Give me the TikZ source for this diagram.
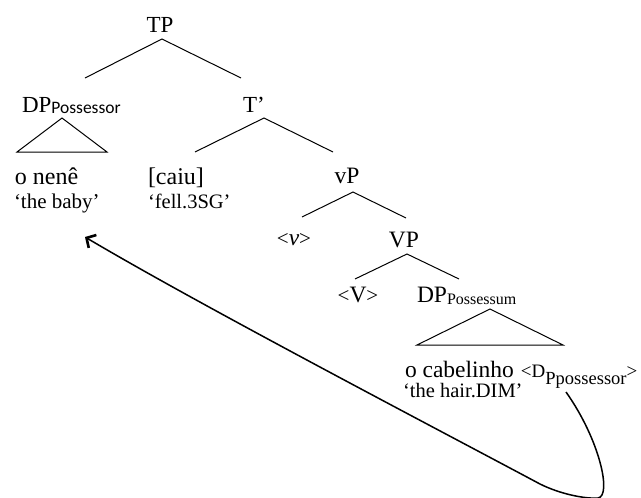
\documentclass[tikz,border=0pt]{standalone}
\usepackage{fontspec}
\setmainfont{Liberation Serif}
\newfontfamily\subfont{Carlito}
\usetikzlibrary{arrows.meta}
\newcommand{\angl}[1]{{\fontsize{21}{22}\selectfont#1}}
\tikzset{
  every node/.style={inner sep=0pt, outer sep=0pt},
  cam/.style={font=\fontsize{23}{25}\selectfont},
  camleaf/.style={font=\fontsize{24}{26}\selectfont},
  camgloss/.style={font=\fontsize{21}{24}\selectfont},
  tms/.style={font=\fontsize{23.5}{26}\selectfont},
  gloss/.style={font=\fontsize{20.5}{24}\selectfont},
  branch/.style={line width=1pt},
  movement/.style={line width=1.5pt,
    {Straight Barb[length=7pt,width=15pt,line width=2.6pt]}-}
}
\begin{document}
\begin{tikzpicture}[x=1pt,y=-1pt]
  \useasboundingbox (0,0) rectangle (641,498);

  % category labels
  \node[cam,anchor=base] (tp) at (160,32) {TP};
  \node[cam,anchor=base] (tbar) at (254,112) {T’};
  \node[cam,anchor=base west] (dpposs) at (22,112)
    {DP\raisebox{-1pt}{\subfont\fontsize{17.5}{18}\selectfont Possessor}};
  \node[tms,anchor=base] (vp) at (347,183) {vP};
  \node[tms,anchor=base] (vtrace) at (294,245) {\angl{<}\textit{v}\angl{>}};
  \node[tms,anchor=base] (VP) at (404,247) {VP};
  \node[tms,anchor=base] (Vtrace) at (358,302) {\angl{<}V\angl{>}};
  \node[tms,anchor=base west] (dpsum) at (417,302)
    {DP\raisebox{-2pt}{\fontsize{16}{18}\selectfont Possessum}};

  % leaves
  \node[camleaf,anchor=base west] (nene) at (15,184) {o nenê};
  \node[camgloss,anchor=base west] (baby) at (14,208) {‘the baby’};
  \node[camleaf,anchor=base west] (caiu) at (148,184) {[caiu]};
  \node[camgloss,anchor=base west,font=\fontsize{20.5}{24}\selectfont] (fell)
    at (148,208) {‘fell.3SG’};
  \node[tms,anchor=base west] (cabelinho) at (405,377) {o cabelinho};
  \node[anchor=base west,font=\fontsize{19}{20}\selectfont] (dtrace)
    at ([xshift=7pt]cabelinho.base east)
    {<D\raisebox{-7pt}{\fontsize{18.5}{20}\selectfont Ppossessor}>};
  \node[gloss,anchor=base west] (hair) at (403,397) {‘the hair.DIM’};

  % branch points
  \coordinate (tp-a) at (162,39);
  \coordinate (tp-l) at (85,78);
  \coordinate (tp-r) at (241,78);
  \coordinate (tb-a) at (264,118);
  \coordinate (tb-l) at (195,152);
  \coordinate (tb-r) at (333,152);
  \coordinate (vp-a) at (353,192);
  \coordinate (vp-l) at (302,217);
  \coordinate (vp-r) at (406,218);
  \coordinate (VP-a) at (407,254);
  \coordinate (VP-l) at (355,279);
  \coordinate (VP-r) at (459,279);

  \draw[branch] (tp-l) -- (tp-a) -- (tp-r);
  \draw[branch] (tb-l) -- (tb-a) -- (tb-r);
  \draw[branch] (vp-l) -- (vp-a) -- (vp-r);
  \draw[branch] (VP-l) -- (VP-a) -- (VP-r);

  % triangles
  \draw[branch] (62,118) -- (17,152) -- (107,152) -- cycle;
  \draw[branch] (490,309) -- (417,345) -- (563,345) -- cycle;

  % movement arrow
  \coordinate (landing) at (85,237);
  \coordinate (launch) at (566,392);
  \draw[movement] (landing) .. controls (200,305) and (420,420) .. (540,484)
    .. controls (560,494) and (585,499) .. (598,498)
    .. controls (612,496) and (600,440) .. (launch);
\end{tikzpicture}
\end{document}
